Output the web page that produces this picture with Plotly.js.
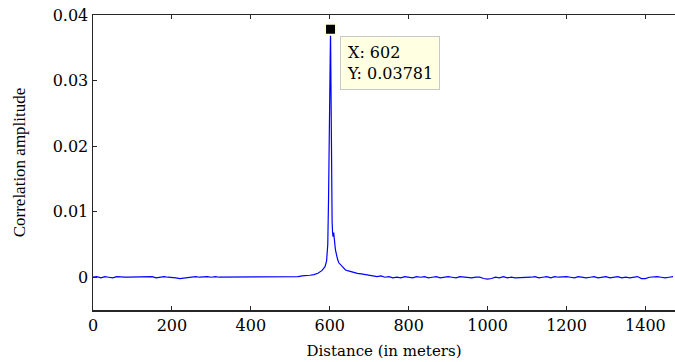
<!DOCTYPE html>
<html>
<head>
<meta charset="utf-8">
<script src="https://cdn.plot.ly/plotly-3.0.1.min.js"></script>
<style>html,body{margin:0;padding:0;background:#fff;}#chart{width:675px;height:362px;}</style>
</head>
<body>
<div id="chart"></div>
<script>
// Baseline before the echo (0–560 m)
const preDistance = [0,10,20,30,40,50,60,70,80,90,
  100,110,120,130,140,150,160,170,180,190,
  200,210,220,230,240,250,260,270,280,290,
  300,310,320,330,340,350,360,370,380,390,
  400,410,420,430,440,450,460,470,480,490,
  500,510,520,530,540,550,560];
const preAmplitude = [0.0000,0.0001,-0.0001,0.0001,0.0000,-0.0001,0.0001,0.0000,0.0000,0.0000,
  0.0000,0.0001,0.0001,0.0000,0.0000,0.0001,-0.0001,0.0000,0.0001,0.0000,
  0.0000,-0.0001,-0.0002,-0.0001,-0.0001,0.0000,0.0001,0.0000,0.0001,0.0001,
  0.0000,0.0001,0.0000,0.0000,0.0001,0.0001,0.0000,0.0000,0.0001,0.0000,
  0.0001,0.0001,0.0000,0.0001,0.0000,0.0000,0.0001,0.0001,0.0001,0.0000,
  0.0001,0.0001,0.0001,0.0002,0.0002,0.0003,0.0004];

// Peak region (570–700 m)
const peakDistance = [570,580,588,592,595,597,599,600,602,603,604,605,606,607,608,610,611,612,613,614,615,616,618,620,623,626,630,635,640,645,650,660,670,680,690,700];
const peakAmplitude = [0.0006,0.0010,0.0016,0.0025,0.0050,0.0120,0.0250,0.0320,0.03781,0.0300,0.0180,0.0120,0.0085,0.0070,0.0062,0.0068,0.0058,0.0052,0.0047,0.0044,0.0040,0.0037,0.0031,0.0027,0.0022,0.0020,0.0016,0.0014,0.0011,0.0010,0.0009,0.0007,0.0006,0.0005,0.0004,0.0003];

// Tail (710–1470 m)
const tailDistance = [710,720,730,740,750,760,770,780,790,800,
  810,820,830,840,850,860,870,880,890,900,
  910,920,930,940,950,960,970,980,990,1000,
  1010,1020,1030,1040,1050,1060,1070,1080,1090,1100,
  1110,1120,1130,1140,1150,1160,1170,1180,1190,1200,
  1210,1220,1230,1240,1250,1260,1270,1280,1290,1300,
  1310,1320,1330,1340,1350,1360,1370,1380,1390,1400,
  1410,1420,1430,1440,1450,1460,1470];
const tailAmplitude = [0.0002,0.0001,0.0002,0.0000,0.0001,-0.0001,0.0000,-0.0001,0.0001,0.0000,
  -0.0001,0.0001,0.0000,0.0001,-0.0001,0.0000,0.0001,-0.0001,0.0000,0.0001,
  0.0000,-0.0001,0.0001,0.0000,0.0000,-0.0001,0.0000,0.0000,-0.0002,-0.0003,
  -0.0002,0.0000,-0.0001,0.0001,-0.0001,0.0000,-0.0001,-0.0001,0.0000,-0.0001,
  0.0000,0.0001,-0.0001,0.0000,0.0001,-0.0001,0.0001,0.0000,0.0001,0.0001,
  0.0000,-0.0001,0.0001,0.0000,-0.0001,0.0000,0.0001,-0.0001,0.0000,0.0001,
  -0.0001,0.0000,0.0001,-0.0001,0.0000,-0.0001,0.0000,0.0001,-0.0002,-0.0002,
  0.0000,0.0001,0.0001,0.0000,-0.0001,0.0000,0.0001];

const tipX = [602];
const tipY = [0.03781];
const xTicks = [0,200,400,600,800,1000,1200,1400];
const yTicks = [0,0.01,0.02,0.03,0.04];
const yTickText = ['0','0.01','0.02','0.03','0.04'];

const distance = preDistance.concat(peakDistance, tailDistance);
const amplitude = preAmplitude.concat(peakAmplitude, tailAmplitude);

const serifH = 'DejaVu Serif, serif';
const serifV = 'Liberation Serif, Times New Roman, serif';

const traces = [
  {x: distance, y: amplitude, type: 'scatter', mode: 'lines',
   line: {color: '#0000ff', width: 1.2}, hoverinfo: 'skip'},
  {x: tipX, y: tipY, type: 'scatter', mode: 'markers',
   marker: {symbol: 'square', size: 11, color: '#000000', line: {color: '#ffffe1', width: 2}},
   hoverinfo: 'skip'}
];

const layout = {
  width: 675, height: 362,
  margin: {l: 93, r: 0, t: 15, b: 52},
  paper_bgcolor: '#ffffff', plot_bgcolor: '#ffffff',
  showlegend: false,
  xaxis: {
    range: [0, 1475], tickvals: xTicks, ticktext: xTicks.map(String),
    ticks: 'inside', ticklen: 4, tickwidth: 1, tickcolor: '#262626',
    showline: true, linecolor: '#262626', linewidth: 1.5, mirror: 'ticks',
    showgrid: false, zeroline: false,
    tickfont: {family: serifH, size: 16, color: '#000'},
    title: {text: 'Distance (in meters)', font: {family: serifH, size: 15, color: '#000'}, standoff: 12}
  },
  yaxis: {
    range: [-0.005, 0.04], tickvals: yTicks, ticktext: yTickText,
    ticks: 'inside', ticklen: 4, tickwidth: 1, tickcolor: '#262626',
    showline: true, linecolor: '#262626', linewidth: 1.5,
    showgrid: false, zeroline: false,
    tickfont: {family: serifH, size: 16, color: '#000'},
    title: {text: 'Correlation amplitude', font: {family: serifV, size: 17, color: '#000'}, standoff: 22}
  },
  annotations: [{
    x: tipX[0], y: tipY[0], xref: 'x', yref: 'y',
    text: 'X: 602<br>Y: 0.03781', showarrow: false,
    xanchor: 'left', yanchor: 'top', xshift: 9, yshift: -7,
    align: 'left', bgcolor: '#ffffe1', bordercolor: '#c8c8c8', borderwidth: 1, borderpad: 6,
    font: {family: serifH, size: 16, color: '#000'}
  }]
};

Plotly.newPlot('chart', traces, layout, {displayModeBar: false, staticPlot: true});
</script>
</body>
</html>
